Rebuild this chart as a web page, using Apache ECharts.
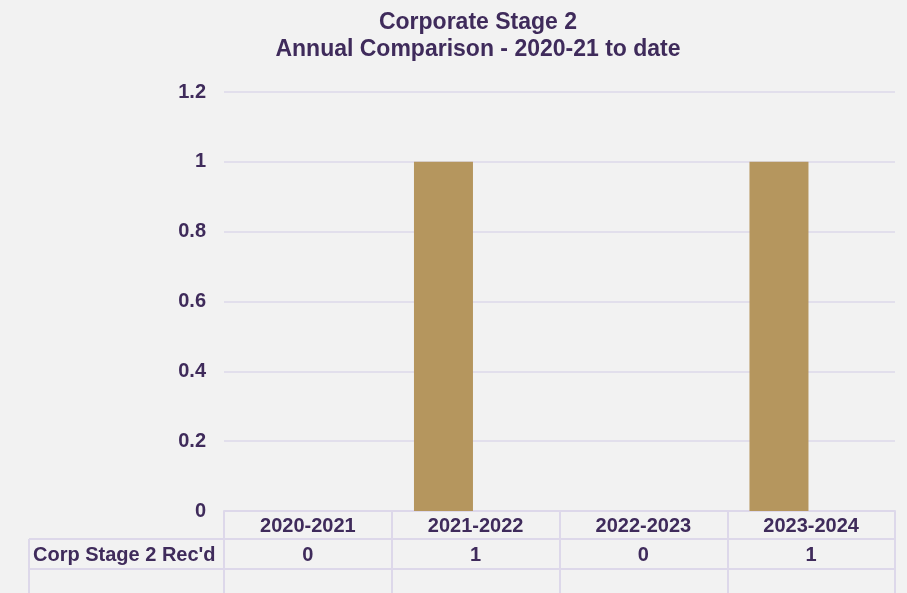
<!DOCTYPE html>
<html>
<head>
<meta charset="utf-8">
<script src="https://cdn.jsdelivr.net/npm/echarts@6/dist/echarts.min.js"></script>
<style>
  html, body { margin: 0; padding: 0; background: #f2f2f2; }
  #chart { width: 907px; height: 593px; }
</style>
</head>
<body>
<div id="chart"></div>
<script>
// Annual counts of corporate stage 2 complaints received
const titleLines = ['Corporate Stage 2', 'Annual Comparison - 2020-21 to date'];
const years = ['2020-2021', '2021-2022', '2022-2023', '2023-2024'];
const seriesName = "Corp Stage 2 Rec'd";
const received = [0, 1, 0, 1];
const spare = [null, null, null, null];
const yTicks = { min: 0, max: 1.2, interval: 0.2 };

const TEXT = '#3f2b5b';
const RULE = '#ddd8ea';
const FONT = '"Liberation Sans", Arial, sans-serif';

const chart = echarts.init(document.getElementById('chart'), null, { renderer: 'canvas' });

const grid = { left: 224, right: 12, top: 92, bottom: 82 };

chart.setOption({
  backgroundColor: '#f2f2f2',
  animation: false,
  title: {
    text: titleLines.join('\n'),
    left: 473,
    top: 4,
    textAlign: 'center',
    textStyle: { color: TEXT, fontFamily: FONT, fontWeight: 'bold', fontSize: 23, lineHeight: 27 }
  },
  grid: grid,
  xAxis: {
    type: 'category',
    data: years,
    boundaryGap: true,
    axisLine: { show: true, lineStyle: { color: RULE, width: 2 } },
    axisTick: { show: true, length: 82, lineStyle: { color: RULE, width: 2 } },
    axisLabel: { color: TEXT, fontFamily: FONT, fontWeight: 'bold', fontSize: 20, margin: 5 }
  },
  yAxis: {
    type: 'value',
    min: yTicks.min, max: yTicks.max, interval: yTicks.interval,
    axisLine: { show: false },
    axisTick: { show: false },
    splitLine: { lineStyle: { color: RULE, width: 1.5 } },
    axisLabel: {
      color: TEXT, fontFamily: FONT, fontWeight: 'bold', fontSize: 20, margin: 18,
      formatter: v => String(Math.round(v * 10) / 10)
    }
  },
  series: [
    {
      name: seriesName, type: 'bar', data: received, barWidth: 59, barGap: '9%',
      itemStyle: { color: '#b5965e' }
    },
    {
      name: 'spare', type: 'bar', data: spare, barWidth: 59
    }
  ]
});

// Data table beneath the category axis
function drawTable() {
  const els = [];
  const x0 = chart.convertToPixel({ xAxisIndex: 0 }, 0);
  const step = chart.convertToPixel({ xAxisIndex: 0 }, 1) - x0;
  const left = x0 - step / 2;
  const right = left + step * years.length;
  const baseY = chart.convertToPixel({ yAxisIndex: 0 }, 0);
  const row1 = baseY + 28;
  const row2 = row1 + 30;
  const tableLeft = 29;

  [row1, row2].forEach(y => {
    els.push({ type: 'line', shape: { x1: tableLeft, y1: y, x2: right, y2: y },
      style: { stroke: RULE, lineWidth: 2 } });
  });
  els.push({ type: 'line', shape: { x1: tableLeft, y1: row1, x2: tableLeft, y2: 593 },
    style: { stroke: RULE, lineWidth: 2 } });

  els.push({ type: 'text', x: tableLeft + 4, y: (row1 + row2) / 2 + 1,
    style: { text: seriesName, fill: TEXT, font: 'bold 20px ' + FONT,
      textAlign: 'left', textVerticalAlign: 'middle' } });

  received.forEach((v, i) => {
    els.push({ type: 'text', x: chart.convertToPixel({ xAxisIndex: 0 }, i), y: (row1 + row2) / 2 + 1,
      style: { text: String(v), fill: TEXT, font: 'bold 20px ' + FONT,
        textAlign: 'center', textVerticalAlign: 'middle' } });
  });

  chart.setOption({ graphic: { elements: els } });
}
drawTable();
</script>
</body>
</html>
